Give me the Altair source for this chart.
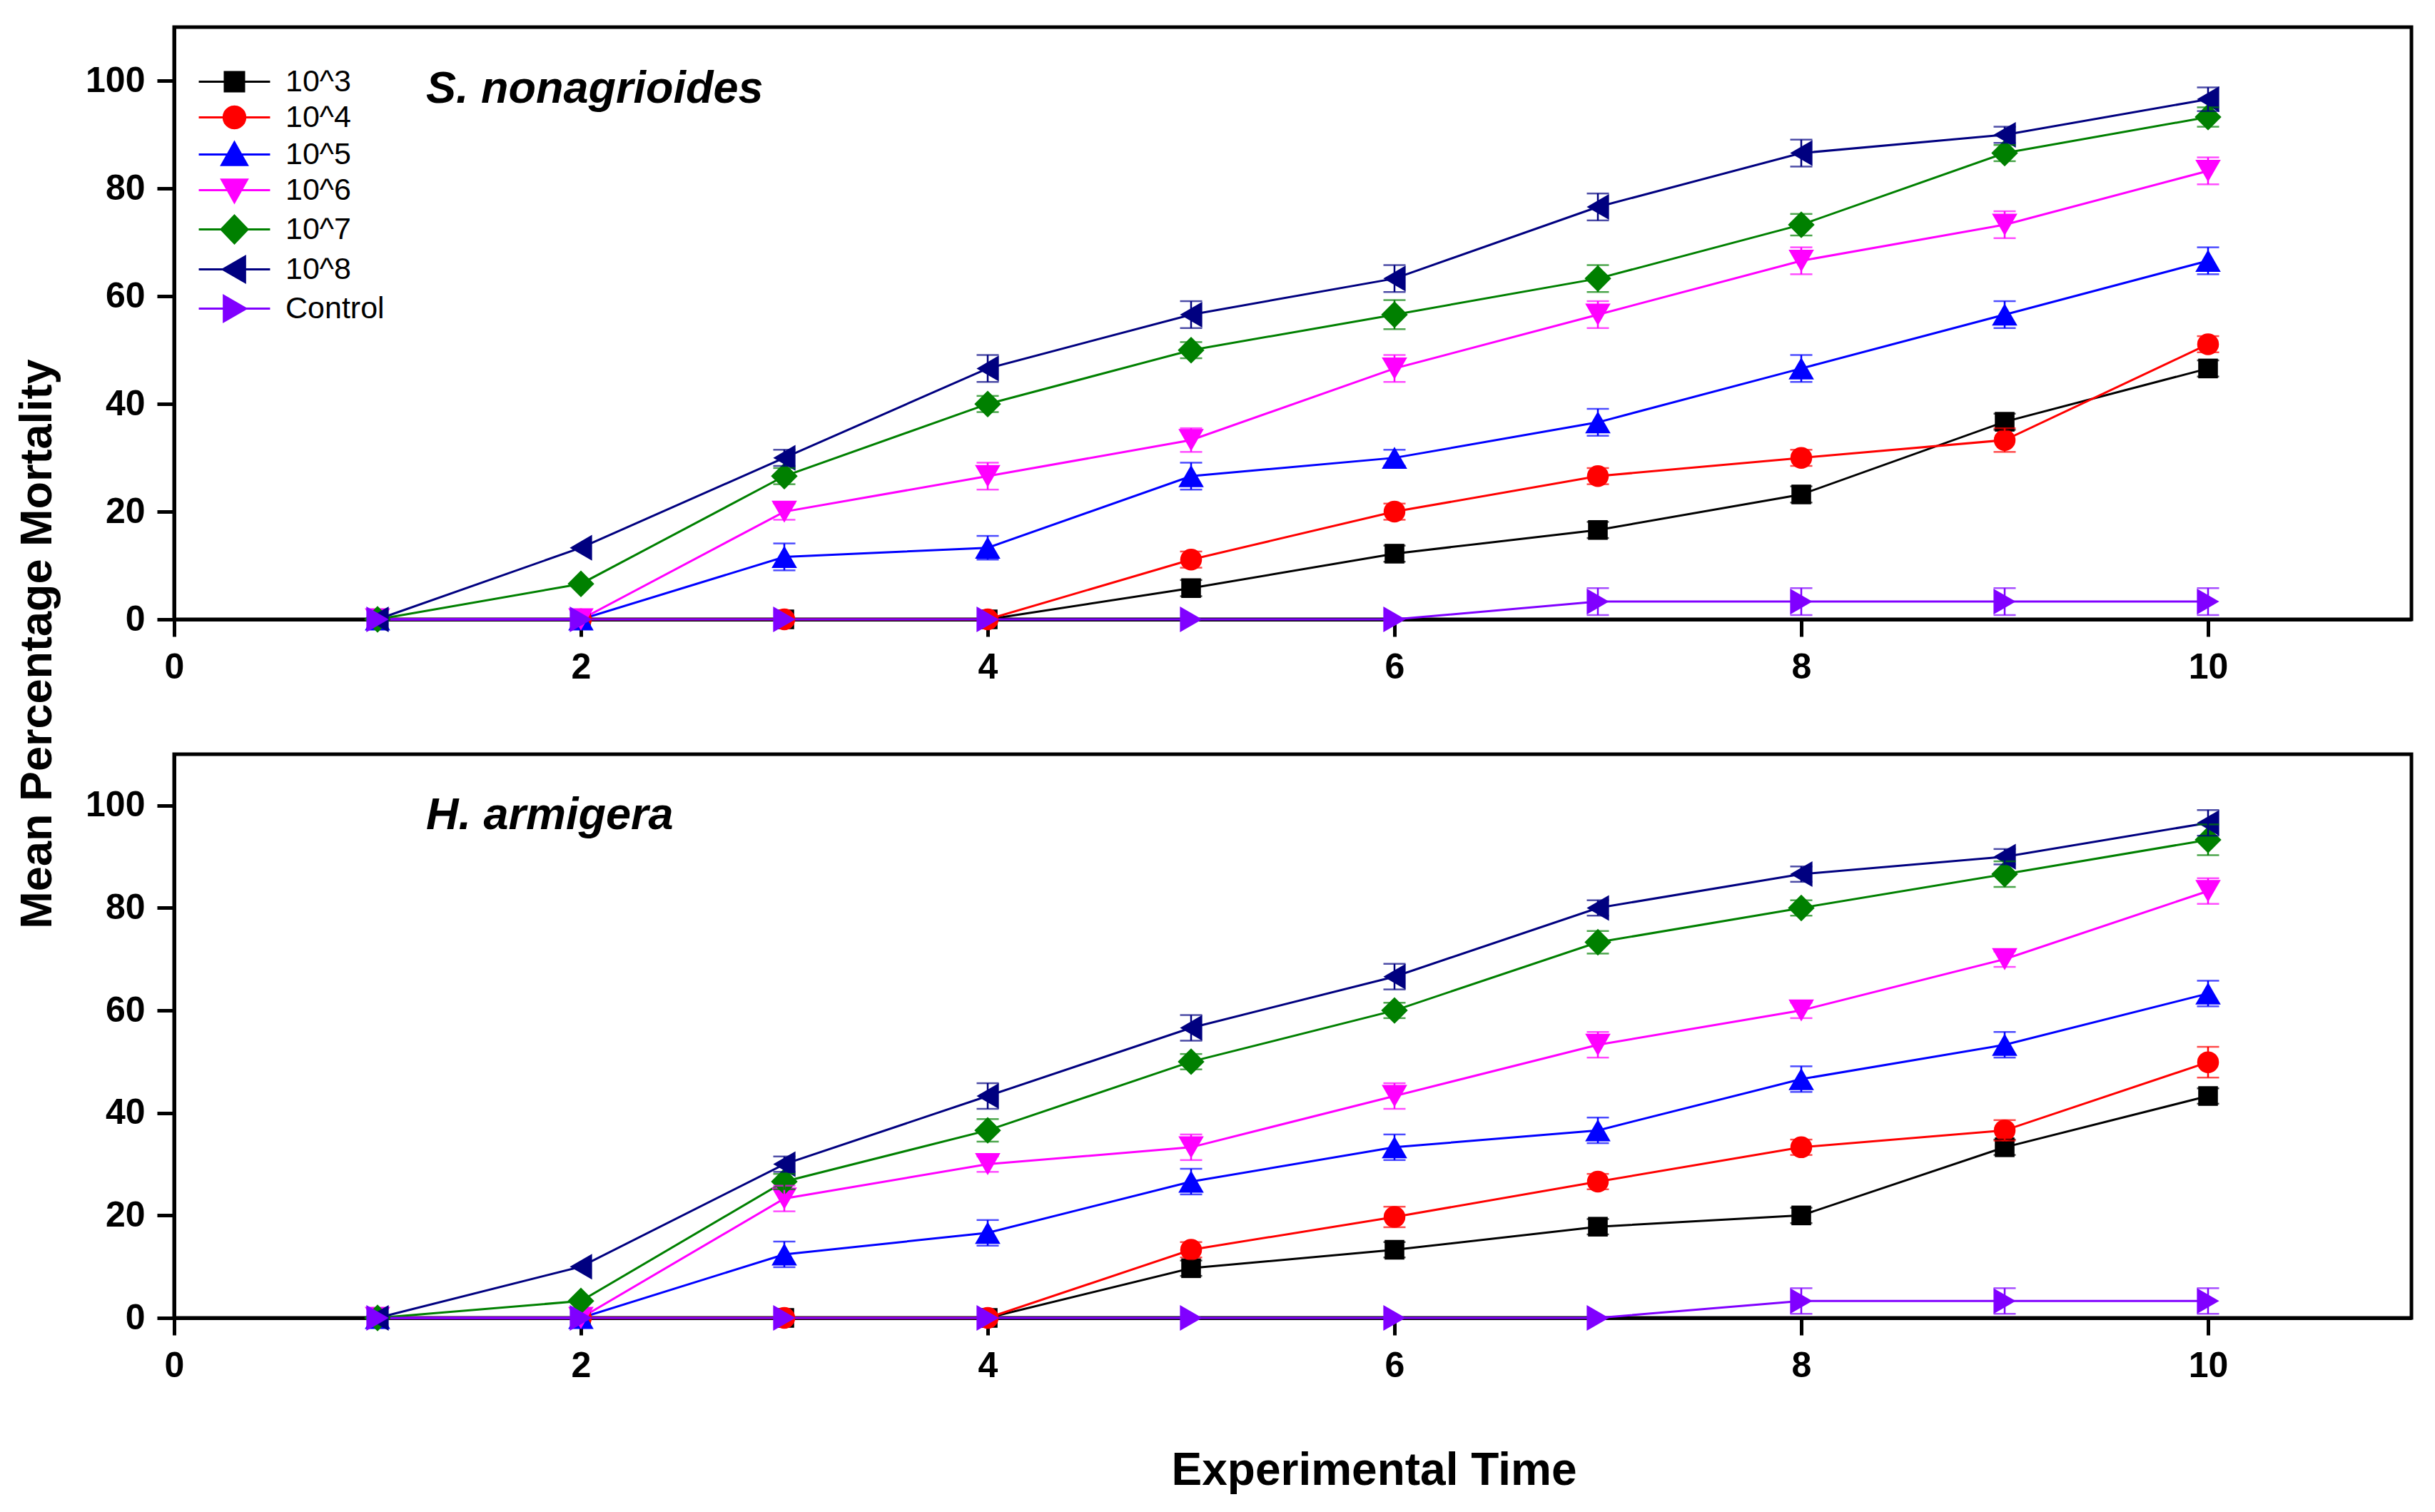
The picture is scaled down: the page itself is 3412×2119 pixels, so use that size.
import math
import altair as alt
import pandas as pd

T = [1, 2, 3, 4, 5, 6, 7, 8, 9, 10]
SERIES = ["10^3", "10^4", "10^5", "10^6", "10^7", "10^8", "Control"]
COLORS = ["#000000", "#FF0000", "#0000FF", "#FF00FF", "#008000", "#000080", "#8000FF"]
SHAPES = ["square", "circle", "triangle-up", "triangle-down", "diamond", "triangle-left", "triangle-right"]
SIZES = [760, 930, 1270, 1270, 1400, 1300, 1300]

# S. nonagrioides (top panel)
S_MEAN = {
    "10^3": [0, 0, 0, 0, 5.8, 12.2, 16.6, 23.2, 36.7, 46.6],
    "10^4": [0, 0, 0, 0, 11.1, 20.0, 26.6, 30.0, 33.3, 51.1],
    "10^5": [0, 0, 11.6, 13.3, 26.6, 30.0, 36.6, 46.6, 56.6, 66.6],
    "10^6": [0, 0, 20.0, 26.6, 33.3, 46.6, 56.6, 66.6, 73.3, 83.3],
    "10^7": [0, 6.6, 26.6, 40.0, 50.0, 56.6, 63.3, 73.3, 86.6, 93.3],
    "10^8": [0, 13.3, 30.0, 46.6, 56.6, 63.3, 76.6, 86.6, 90.0, 96.6],
    "Control": [0, 0, 0, 0, 0, 0, 3.3, 3.3, 3.3, 3.3],
}
S_ERR = {
    "10^3": [0, 0, 0, 0, 1.5, 1.5, 1.5, 1.5, 1.5, 1.5],
    "10^4": [0, 0, 0, 0, 1.5, 1.5, 1.5, 1.5, 2.2, 1.5],
    "10^5": [0, 0, 2.5, 2.2, 2.5, 1.5, 2.5, 2.5, 2.5, 2.5],
    "10^6": [0, 0, 1.5, 2.5, 2.2, 2.5, 2.5, 2.5, 2.5, 2.5],
    "10^7": [0, 0, 1.5, 1.5, 1.5, 2.7, 2.5, 2.0, 1.5, 1.8],
    "10^8": [0, 0, 1.5, 2.5, 2.5, 2.5, 2.5, 2.5, 1.5, 2.2],
    "Control": [0, 0, 0, 0, 0, 0, 2.5, 2.5, 2.5, 2.5],
}

# H. armigera (bottom panel)
H_MEAN = {
    "10^3": [0, 0, 0, 0, 9.7, 13.3, 17.8, 20.0, 33.3, 43.3],
    "10^4": [0, 0, 0, 0, 13.3, 19.7, 26.6, 33.3, 36.6, 49.9],
    "10^5": [0, 0, 12.4, 16.6, 26.6, 33.3, 36.6, 46.6, 53.3, 63.3],
    "10^6": [0, 0, 23.3, 30.0, 33.3, 43.3, 53.3, 60.0, 70.0, 83.3],
    "10^7": [0, 3.3, 26.6, 36.6, 50.0, 60.0, 73.3, 80.0, 86.6, 93.3],
    "10^8": [0, 10.0, 30.0, 43.3, 56.6, 66.6, 80.0, 86.6, 90.0, 96.6],
    "Control": [0, 0, 0, 0, 0, 0, 0, 3.3, 3.3, 3.3],
}
H_ERR = {
    "10^3": [0, 0, 0, 0, 1.5, 1.5, 1.5, 1.5, 1.5, 1.5],
    "10^4": [0, 0, 0, 0, 1.5, 2.0, 1.5, 1.5, 2.0, 3.0],
    "10^5": [0, 0, 2.5, 2.5, 2.5, 2.5, 2.5, 2.5, 2.5, 2.5],
    "10^6": [0, 0, 2.5, 1.5, 2.5, 2.5, 2.5, 1.5, 1.5, 2.5],
    "10^7": [0, 0, 1.5, 2.2, 1.5, 1.5, 2.2, 1.5, 2.5, 3.0],
    "10^8": [0, 0, 1.5, 2.5, 2.5, 2.5, 1.5, 1.5, 1.5, 2.5],
    "Control": [0, 0, 0, 0, 0, 0, 0, 2.5, 2.5, 2.5],
}

X_TICKS = [0, 2, 4, 6, 8, 10]
Y_TICKS = [0, 20, 40, 60, 80, 100]

# legend glyphs: a short line with the marker in the middle (unit = half marker width)
LEG = "M-3.7,0L3.7,0"
_circ = "M" + "L".join(
    "%.3f,%.3f" % (1.13 * math.cos(a * math.pi / 12), 1.13 * math.sin(a * math.pi / 12)) for a in range(24)
) + "Z"
LEGEND_PATHS = [
    LEG + "M-1,-1L1,-1L1,1L-1,1Z",
    LEG + _circ,
    LEG + "M0,-1.25L1.32,1.1L-1.32,1.1Z",
    LEG + "M0,1.25L1.32,-1.1L-1.32,-1.1Z",
    LEG + "M0,-1.43L1.37,0L0,1.43L-1.37,0Z",
    LEG + "M-1.2,0L1.1,-1.33L1.1,1.33Z",
    LEG + "M1.2,0L-1.1,-1.33L-1.1,1.33Z",
]

FONT = "Liberation Sans"


def make_df(mean, err):
    rows = []
    for i, s in enumerate(SERIES):
        for j, t in enumerate(T):
            m = mean[s][j]
            e = err[s][j]
            rows.append({"series": s, "k": i, "t": t, "y": m, "lo": m - e, "hi": m + e, "e": e})
    return pd.DataFrame(rows)


def panel(df, title, height, dy, show_ytitle, show_xtitle, with_legend):
    base = alt.Chart(df)
    x = alt.X(
        "t:Q",
        scale=alt.Scale(domain=[0, 11], nice=False, zero=False),
        axis=alt.Axis(
            values=X_TICKS,
            title="Experimental Time" if show_xtitle else None,
            titleFont=FONT,
            titleFontSize=64,
            titleFontWeight="bold",
            titleColor="black",
            titleX=1681,
            titleY=233,
            titleBaseline="alphabetic",
            labelFlush=False,
            labelPadding=18,
        ),
    )
    y = alt.Y(
        "y:Q",
        scale=alt.Scale(domain=[0, 110], nice=False),
        axis=alt.Axis(
            values=Y_TICKS,
            title="Mean Percentage Mortality" if show_ytitle else None,
            titleFont=FONT,
            titleFontSize=63,
            titleFontWeight="bold",
            titleColor="black",
            titleAngle=270,
            titleX=-192,
            titleY=864,
            titleBaseline="middle",
            titleAlign="center",
            labelPadding=17,
        ),
    )

    layers = []
    # lines, markers and error bars drawn per series with the series' own colour
    for i, s in enumerate(SERIES):
        layers.append(
            base.transform_filter(alt.datum.series == s)
            .mark_line(strokeWidth=3, color=COLORS[i])
            .encode(x=x, y=y, order=alt.Order("t:Q"))
        )
    for i, s in enumerate(SERIES):
        layers.append(
            base.transform_filter(alt.datum.series == s)
            .mark_point(filled=True, opacity=1, shape=SHAPES[i], size=SIZES[i], color=COLORS[i])
            .encode(x=x, y=y)
        )
    for i, s in enumerate(SERIES):
        eb = base.transform_filter((alt.datum.series == s) & (alt.datum.e > 0))
        layers.append(eb.mark_rule(strokeWidth=2.5, color=COLORS[i]).encode(x=x, y="lo:Q", y2="hi:Q"))
        layers.append(
            eb.mark_tick(orient="horizontal", size=31, thickness=2.5, color=COLORS[i]).encode(x=x, y="lo:Q")
        )
        layers.append(
            eb.mark_tick(orient="horizontal", size=31, thickness=2.5, color=COLORS[i]).encode(x=x, y="hi:Q")
        )

    if with_legend:
        leg = alt.Legend(
            title=None,
            orient="none",
            legendX=63,
            legendY=55,
            labelFont=FONT,
            labelFontSize=43,
            labelColor="black",
            symbolSize=729,
            symbolStrokeWidth=3,
            symbolOpacity=1,
            labelOffset=50,
            rowPadding=6,
            padding=0,
        )
        # layer with no rows that only feeds the legend
        legend_layer = base.transform_filter("datum.t > 100").mark_point(
            filled=True, size=729, strokeWidth=3, opacity=1
        ).encode(
            x=x,
            y=y,
            fill=alt.Fill("series:N", scale=alt.Scale(domain=SERIES, range=COLORS), legend=leg),
            stroke=alt.Stroke("series:N", scale=alt.Scale(domain=SERIES, range=COLORS), legend=leg),
            shape=alt.Shape("series:N", scale=alt.Scale(domain=SERIES, range=LEGEND_PATHS), legend=leg),
        )
        layers.append(legend_layer)

    ch = alt.layer(*layers).properties(
        width=3135,
        height=height,
        title=alt.TitleParams(
            title,
            anchor="start",
            frame="group",
            orient="top",
            offset=0,
            dx=353,
            dy=dy,
            baseline="alphabetic",
            font=FONT,
            fontSize=63,
            fontStyle="italic",
            fontWeight="bold",
            color="black",
        ),
    )
    return ch


top = panel(make_df(S_MEAN, S_ERR), "S. nonagrioides", 830, 169, True, False, True)
bottom = panel(make_df(H_MEAN, H_ERR), "H. armigera", 790, 168, False, True, False)

chart = alt.vconcat(top, bottom, spacing=189, bounds="flush").properties(
    padding={"left": 10, "top": 27, "right": 10, "bottom": 5},
    background="white",
).configure_view(
    stroke="black", strokeWidth=5
).configure_axis(
    grid=False,
    domainColor="black",
    domainWidth=5,
    tickColor="black",
    tickWidth=5,
    tickSize=24,
    labelFont=FONT,
    labelFontSize=50,
    labelFontWeight="bold",
    labelColor="black",
)

chart.save("out.html", embed_options={"renderer": "svg", "actions": False})
